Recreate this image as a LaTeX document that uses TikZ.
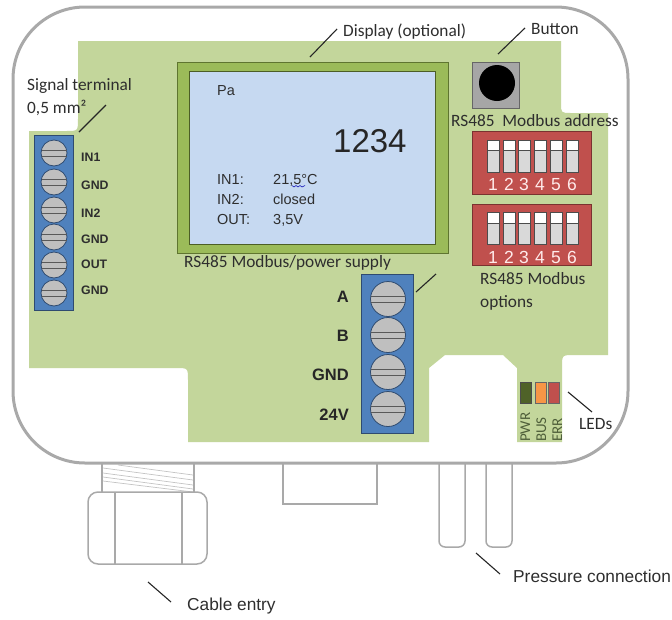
\documentclass[tikz,border=0pt]{standalone}
\usepackage{fontspec}
\setmainfont{Liberation Sans}
\newfontfamily\calfont{Carlito}
\definecolor{board}{HTML}{C3D69B}
\definecolor{housing}{HTML}{A9A9A9}
\definecolor{termblue}{HTML}{4F81BD}
\definecolor{termedge}{HTML}{2F4B70}
\definecolor{screwgray}{HTML}{BFBFBF}
\definecolor{dispgreen}{HTML}{9BBB59}
\definecolor{dispedge}{HTML}{5F7530}
\definecolor{lcd}{HTML}{C6D9F1}
\definecolor{dipred}{HTML}{C0504D}
\definecolor{dipedge}{HTML}{7A3230}
\definecolor{txt}{HTML}{2E2E2E}
\definecolor{ledgreen}{HTML}{4F6228}
\definecolor{ledorange}{HTML}{F79646}
\definecolor{ledtxt}{HTML}{4F5F3A}
\tikzset{
  x=1pt,y=-1pt,
  leader/.style={draw=black!85,line width=1.1pt},
  outline/.style={draw=housing,line width=1.5pt},
  lab/.style={inner sep=0pt,anchor=base west,text=txt,font=\calfont\fontsize{17.3}{19}\selectfont},
  lcdtext/.style={inner sep=0pt,anchor=base west,text=txt,font=\fontsize{14.5}{16}\selectfont},
  termsmall/.style={inner sep=0pt,anchor=base west,text=txt,font=\bfseries\fontsize{12.3}{14}\selectfont},
  termbig/.style={inner sep=0pt,anchor=base east,text=black!85,font=\bfseries\fontsize{16.5}{18}\selectfont},
  dipnum/.style={inner sep=0pt,anchor=base,text=red!8!white,font=\fontsize{17.5}{19}\selectfont},
  ledtext/.style={inner sep=0pt,anchor=base west,rotate=90,text=ledtxt,font=\calfont\fontsize{15}{16}\selectfont},
  termbar/.style={fill=termblue,draw=termedge,line width=0.9pt},
  screwhead/.style={fill=screwgray,draw=termedge,line width=0.8pt},
  slot/.style={draw=black!65,line width=0.8pt},
}
\begin{document}
\begin{tikzpicture}
\useasboundingbox (0,0) rectangle (672,619);
% housing attachments
\draw[outline] (102,463) -- (102,492) (194,463) -- (194,492);
\draw[housing!70,line width=0.7pt]
  (118,465) -- (193,475) (103,468) -- (193,480) (103,473) -- (193,485)
  (103,477) -- (193,489) (103,481) -- (193,492);
\draw[outline,rounded corners=10] (88,492) rectangle (207,564);
\draw[outline] (115,492) -- (115,564) (182,492) -- (182,564);
\draw[outline] (283,463) -- (283,504) -- (377,504) -- (377,463);
\draw[outline,rounded corners=6] (439,463) -- (439,547) -- (465,547) -- (465,463);
\draw[outline,rounded corners=6] (486,463) -- (486,547) -- (512,547) -- (512,463);
% housing
\draw[draw=housing,line width=3pt,fill=white,rounded corners=72] (13,7) rectangle (628,463);
% board
\fill[board] (78,41) -- (561,41) -- (561,103) .. controls (561,113) .. (571,113)
  -- (608,113) -- (608,355) -- (574,355) .. controls (562,355) .. (562,367)
  -- (562,442) -- (517,442) -- (517,368) -- (503,355) -- (445,355) -- (429,368)
  -- (429,442) -- (188,442) -- (188,380) .. controls (188,368) .. (176,368)
  -- (29,368) -- (29,131) -- (66,131) .. controls (78,131) .. (78,119) -- cycle;
% left terminal
\draw[termbar] (34,135) rectangle (73,310);
\foreach \i/\y in {1/153,2/182,3/210,4/237,5/265,6/293}{
  \draw[screwhead] (54,\y) circle (13);
  \draw[slot] (41.5,\y-3) -- (66.5,\y-3) (41.5,\y+3) -- (66.5,\y+3);
}
\foreach \i/\y/\t in {1/161/IN1,2/189/GND,3/217/IN2,4/243/GND,5/268/OUT,6/294/GND}
  \node[termsmall] (lt\i) at (81,\y) {\t};
% right terminal
\draw[termbar] (361,274) rectangle (413,433);
\foreach \i/\y in {1/299,2/335,3/372,4/409}{
  \draw[screwhead] (388,\y) circle (17.5);
  \draw[slot] (371,\y-3) -- (405,\y-3) (371,\y+3) -- (405,\y+3);
}
\foreach \i/\y/\t in {1/302/A,2/341/B,3/380/GND,4/420/24V}
  \node[termbig] (rt\i) at (349,\y) {\t};
% display
\draw[fill=dispgreen,draw=dispedge,line width=0.9pt] (177,62) rectangle (448,253);
\draw[fill=lcd,draw=dispedge!80!black,line width=0.9pt] (189,71) rectangle (435,244);
\node[lcdtext] (pa) at (217,95) {Pa};
\node[inner sep=0pt,anchor=base west,text=black!85,font=\fontsize{33}{36}\selectfont] (val) at (333,152) {1234};
\node[lcdtext] (in1) at (217,184) {IN1:};
\node[lcdtext] (in2) at (217,204) {IN2:};
\node[lcdtext] (out) at (217,224) {OUT:};
\node[lcdtext] (in1v) at (273,184) {21,5°C};
\node[lcdtext] (in2v) at (273,204) {closed};
\node[lcdtext] (outv) at (273,224) {3,5V};
\draw[blue!70!black,line width=0.5pt] (292,185.5) -- (294,187) -- (296,185.5) -- (298,187) -- (300,185.5) -- (302,187) -- (305,185.5);
% button
\draw[fill=black!35,draw=black!60,line width=0.9pt] (472,62) rectangle (519,108);
\fill[black] (497,83) circle (18);
% DIP switches
\foreach \top/\bot/\st/\sm/\se/\nb in {131/194/140/150/172/190,204/265/212/223/244/263}{
  \draw[fill=dipred,draw=dipedge,line width=0.8pt] (472,\top) rectangle (591,\bot);
  \foreach \c/\n in {493/1,509/2,524/3,540/4,556/5,572/6}{
    \draw[fill=black!15,draw=black!70,line width=0.7pt] (\c-6,\st) rectangle (\c+6,\se);
    \draw[fill=white,draw=black!70,line width=0.7pt] (\c-6,\st) rectangle (\c+6,\sm);
    \node[dipnum] (dip\top n\n) at (\c,\nb) {\n};
  }
}
% LEDs
\draw[fill=ledgreen,draw=black!70,line width=0.7pt] (520,382) rectangle (531,403);
\draw[fill=ledorange,draw=black!60,line width=0.7pt] (535,382) rectangle (546,403);
\draw[fill=dipred,draw=black!60,line width=0.7pt] (548,382) rectangle (559,403);
\node[ledtext] (pwr) at (530,442) {PWR};
\node[ledtext] (bus) at (546,442) {BUS};
\node[ledtext] (err) at (562,442) {ERR};
% labels
\node[lab] (signal) at (27,90) {Signal terminal};
\node[lab] (mm) at (27,113) {0,5 mm²};
\node[lab] (display) at (343,36) {Display (optional)};
\node[lab] (button) at (531,34) {Button};
\node[lab] (addr) at (451,126) {RS485\ \ Modbus address};
\node[lab] (power) at (184,267) {RS485 Modbus/power supply};
\node[lab] (opt1) at (480,284) {RS485 Modbus};
\node[lab] (opt2) at (480,307) {options};
\node[lab] (leds) at (579,429) {LEDs};
\node[inner sep=0pt,anchor=base west,text=txt,font=\fontsize{17.3}{19}\selectfont] (cable) at (187,610) {Cable entry};
\node[inner sep=0pt,anchor=base west,text=txt,font=\fontsize{17.3}{19}\selectfont] (pressure) at (513,582) {Pressure connection};
% leaders
\coordinate (cDa) at (310,57);   \coordinate (cDb) at (337,29);
\coordinate (cBa) at (498,54);   \coordinate (cBb) at (525,28);
\coordinate (cSa) at (79,132);   \coordinate (cSb) at (106,105);
\coordinate (cTa) at (416,292);  \coordinate (cTb) at (436,274);
\coordinate (cLa) at (568,392);  \coordinate (cLb) at (592,412);
\coordinate (cPa) at (476,553);  \coordinate (cPb) at (500,574);
\coordinate (cCa) at (148,582);  \coordinate (cCb) at (171,602);
\draw[leader] (cDa) -- (cDb);
\draw[leader] (cBa) -- (cBb);
\draw[leader] (cSa) -- (cSb);
\draw[leader] (cTa) -- (cTb);
\draw[leader] (cLa) -- (cLb);
\draw[leader] (cPa) -- (cPb);
\draw[leader] (cCa) -- (cCb);
\end{tikzpicture}
\end{document}
